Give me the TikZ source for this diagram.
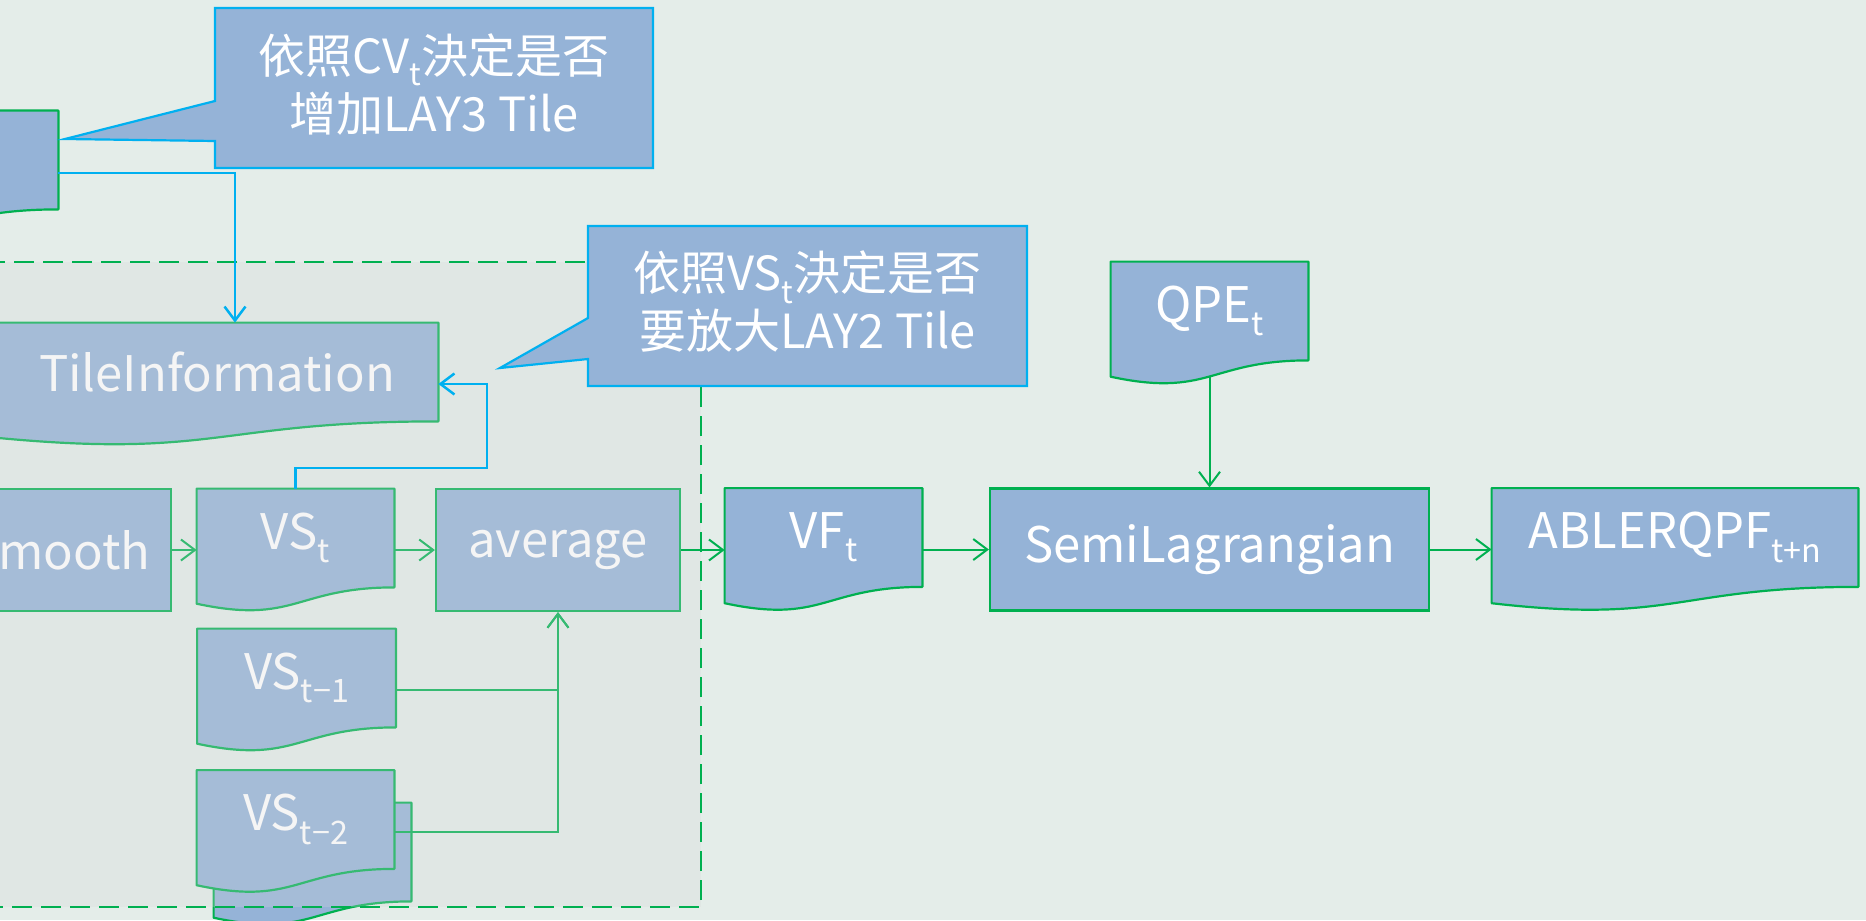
\documentclass[tikz,border=0pt]{standalone}
\usepackage{fontspec}
\setmainfont{Noto Sans CJK TC}
\usepackage{graphicx}
\usepackage{tikz}
\usetikzlibrary{arrows.meta,positioning,calc}
\definecolor{lgback}{HTML}{E4EDE9}
\definecolor{lgfill}{HTML}{95B3D7}
\definecolor{lggreen}{HTML}{00B050}
\definecolor{lgcyan}{HTML}{00B0F0}
\definecolor{lgshade}{HTML}{D8D8D8}
\newcommand{\lbfont}{\fontsize{24.5}{29}\selectfont}
\newcommand{\notefont}{\fontsize{23.5}{29}\selectfont}
\newcommand{\lowidx}[1]{\raisebox{-0.27em}{\scalebox{0.66}{#1}}}
% wavy lower edge of a document node
\newcommand{\docwave}[1]{%
  \fill[lgfill] ([yshift=1.5pt]#1.south west) -- ([yshift=1.5pt]#1.south east) -- (#1.south east)
    .. controls (#1.south) and ($(#1.south)!-0.38!(#1.north)$)
    .. ($(#1.south west)!-0.165!(#1.north west)$) -- cycle;
  \draw[docline] (#1.north west) -- (#1.north east) -- (#1.south east)
    .. controls (#1.south) and ($(#1.south)!-0.38!(#1.north)$)
    .. ($(#1.south west)!-0.165!(#1.north west)$) -- cycle;}
\tikzset{
  proc/.style    = {rectangle, draw=lggreen, line width=1.1pt, fill=lgfill,
                    text=white, minimum height=61pt, inner sep=2pt, font=\lbfont},
  doc/.style     = {rectangle, fill=lgfill, text=white, minimum height=49pt,
                    inner sep=2pt, font=\lbfont},
  docline/.style = {draw=lggreen, line width=1.1pt, line join=round},
  note/.style    = {text=white, align=center, font=\notefont, inner sep=0pt},
  notebox/.style = {fill=lgfill, draw=lgcyan, line width=1.1pt},
  ed/.style      = {-{Straight Barb[length=7pt,width=10.5pt]}, draw=lggreen, line width=1pt},
  edb/.style     = {-{Straight Barb[length=7pt,width=10.5pt]}, draw=lgcyan, line width=1.25pt},
  grp/.style     = {draw=lggreen, line width=1.2pt, dash pattern=on 10pt off 4.5pt,
                    fill=lgshade, fill opacity=0.25},
}
\begin{document}
\begin{tikzpicture}[x=0.5pt, y=-0.5pt]
  \path[use as bounding box, fill=lgback] (0,0) rectangle (1866,920);
  % nodes inside the dashed frame
  \node[doc, minimum width=120pt] (lay) at (-62,160) {}; \docwave{lay}
  \node[doc, minimum width=221pt] (tile) at (217,372) {TileInformation}; \docwave{tile}
  \node[proc, minimum width=111pt] (smooth) at (60,550) {Smooth};
  \node[doc, minimum width=98.5pt] (vst) at (295.5,538) {VS\lowidx{t}}; \docwave{vst}
  \node[proc, minimum width=122pt] (avg) at (558,550) {average};
  \node[doc, minimum width=99pt] (vsa) at (296.5,678) {VS\lowidx{t−1}}; \docwave{vsa}
  \node[doc, minimum width=98.5pt] (vsc) at (312.5,852) {}; \docwave{vsc}
  \node[doc, minimum width=98.5pt] (vsb) at (295.5,819.5) {VS\lowidx{t−2}}; \docwave{vsb}
  \draw[ed] (smooth.east) -- (smooth.east -| vst.west);
  \draw[ed] (avg.west -| vst.east) -- (avg.west);
  \draw[ed] ([yshift=-6pt]vsa.east) -| (avg.south);
  \draw[ed] ([yshift=-6pt]vsb.east) -| (avg.south);
  \draw[grp] (-10,262) rectangle (701,907);
  % nodes on the right
  \node[doc, minimum width=98.5pt] (vft) at (823.5,537.5) {VF\lowidx{t}}; \docwave{vft}
  \node[proc, minimum width=219.5pt] (semi) at (1209.5,549.5) {SemiLagrangian};
  \node[doc, minimum width=183pt] (abl) at (1675,537.5) {ABLERQPF\lowidx{t+n}}; \docwave{abl}
  \node[doc, minimum width=98.5pt] (qpe) at (1209.5,311) {QPE\lowidx{t}}; \docwave{qpe}
  \draw[ed] (avg.east) -- (avg.east -| vft.west);
  \draw[ed] (semi.west -| vft.east) -- (semi.west);
  \draw[ed] (semi.east) -- (semi.east -| abl.west);
  \draw[ed] ($(qpe.south)!-0.163!(qpe.north)$) -- (semi.north);
  % blue connectors
  \coordinate (bend) at (487,468);
  \draw[edb] ([yshift=-6.5pt]lay.east) -| ([xshift=9pt]tile.north);
  \draw[edb] (vst.north) |- (bend) |- ([yshift=-6pt]tile.east);
  % callouts
  \filldraw[notebox] (215,8) -- (653,8) -- (653,168) -- (215,168) -- (215,141)
    -- (65,139) -- (215,101) -- cycle;
  \node[note] (cvnote) at (434,84) {依照CV\lowidx{t}決定是否\\增加LAY3 Tile};
  \filldraw[notebox] (588,226) -- (1027,226) -- (1027,386) -- (588,386) -- (588,359)
    -- (500,368) -- (588,318) -- cycle;
  \node[note] (vsnote) at (807.5,302) {依照VS\lowidx{t}決定是否\\要放大LAY2 Tile};
\end{tikzpicture}
\end{document}
